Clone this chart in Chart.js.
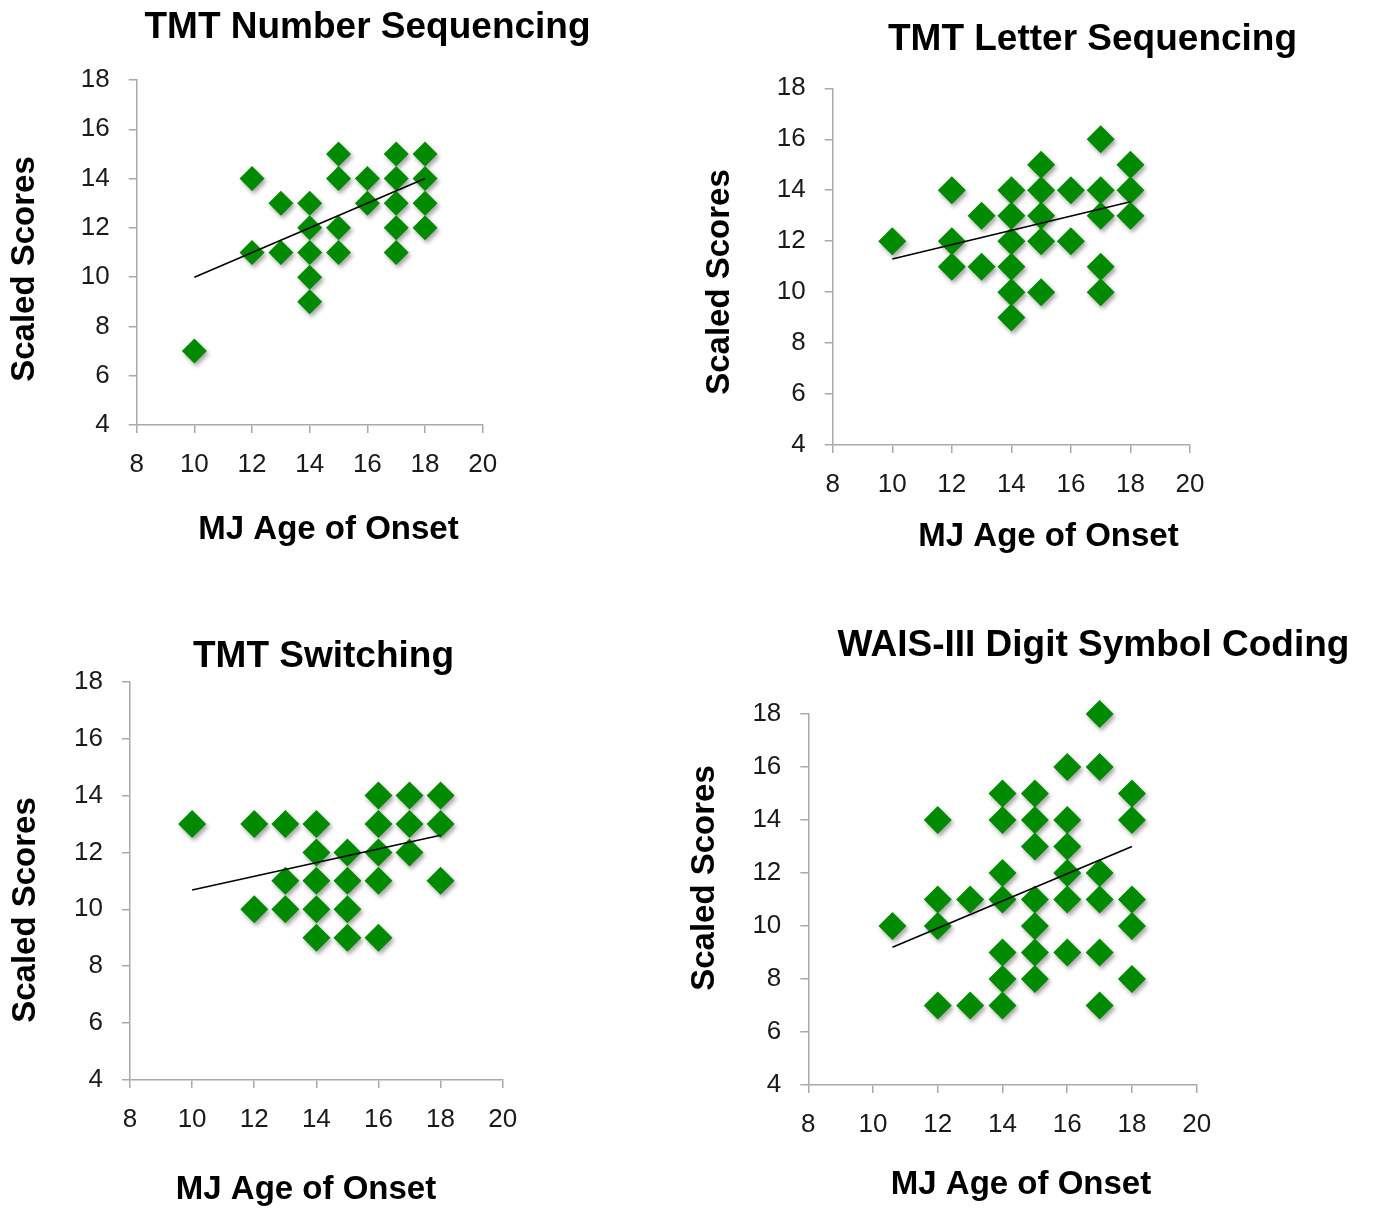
<!DOCTYPE html>
<html>
<head>
<meta charset="utf-8">
<script src="https://cdn.jsdelivr.net/npm/chart.js@4.4.0/dist/chart.umd.min.js"></script>
<style>
  body { margin: 0; background: #fff; }
  #wrap { position: relative; width: 1373px; height: 1209px; }
  canvas { position: absolute; }
</style>
</head>
<body>
<div id="wrap">
  <canvas id="numberChart" width="686" height="604" style="left:0;top:0"></canvas>
  <canvas id="letterChart" width="687" height="604" style="left:686px;top:0"></canvas>
  <canvas id="switchChart" width="686" height="605" style="left:0;top:604px"></canvas>
  <canvas id="codingChart" width="687" height="605" style="left:686px;top:604px"></canvas>
</div>
<script>
// tick values shared by all four panels
var xTicks = [8, 10, 12, 14, 16, 18, 20];
var yTicks = [4, 6, 8, 10, 12, 14, 16, 18];

// TMT Number Sequencing
var numberAge   = [10, 12, 12, 13, 13, 14, 14, 14, 14, 14, 15, 15, 15, 15, 16, 16, 17, 17, 17, 17, 17, 18, 18, 18, 18];
var numberScore = [ 7, 14, 11, 13, 11, 13, 12, 11, 10,  9, 15, 14, 12, 11, 14, 13, 15, 14, 13, 12, 11, 15, 14, 13, 12];
var numberTrend = [[10, 10], [18, 14]];

// TMT Letter Sequencing
var letterAge   = [10, 12, 12, 12, 13, 13, 14, 14, 14, 14, 14, 14, 15, 15, 15, 15, 15, 16, 16, 17, 17, 17, 17, 17, 18, 18, 18];
var letterScore = [12, 14, 12, 11, 13, 11, 14, 13, 12, 11, 10,  9, 15, 14, 13, 12, 10, 14, 12, 16, 14, 13, 11, 10, 15, 14, 13];
var letterTrend = [[10, 11.3], [18, 13.55]];

// TMT Switching
var switchAge   = [10, 12, 12, 13, 13, 13, 14, 14, 14, 14, 14, 15, 15, 15, 15, 16, 16, 16, 16, 16, 17, 17, 17, 18, 18, 18];
var switchScore = [13, 13, 10, 13, 11, 10, 13, 12, 11, 10,  9, 12, 11, 10,  9, 14, 13, 12, 11,  9, 14, 13, 12, 14, 13, 11];
var switchTrend = [[10, 10.68], [18, 12.6]];

// WAIS-III Digit Symbol Coding
var codingAge   = [10.6, 12, 12, 12, 12, 13, 13, 14, 14, 14, 14, 14, 14, 14, 15, 15, 15, 15, 15, 15, 15,
                   16, 16, 16, 16, 16, 16, 17, 17, 17, 17, 17, 17, 18, 18, 18, 18, 18];
var codingScore = [10, 14, 11, 10, 7, 11, 7, 15, 14, 12, 11, 9, 8, 7, 15, 14, 13, 11, 10, 9, 8,
                   16, 14, 13, 12, 11, 9, 18, 16, 12, 11, 9, 7, 15, 14, 11, 10, 8];
var codingTrend = [[10.6, 9.2], [18, 13]];

var FONT = '"Liberation Sans", Arial, sans-serif';

// titles drawn straight on the canvas, positions in canvas pixels
var panelText = {
  id: 'panelText',
  afterDraw: function(chart, args, opts) {
    var ctx = chart.ctx;
    ctx.save();
    ctx.fillStyle = '#000';
    ctx.textAlign = 'center';
    ctx.textBaseline = 'middle';
    ctx.font = 'bold 37px ' + FONT;
    ctx.fillText(opts.title, opts.titlePos[0], opts.titlePos[1]);
    ctx.font = 'bold 33px ' + FONT;
    ctx.fillText(opts.xTitle, opts.xTitlePos[0], opts.xTitlePos[1]);
    ctx.translate(opts.yTitlePos[0], opts.yTitlePos[1]);
    ctx.rotate(-Math.PI / 2);
    ctx.fillText(opts.yTitle, 0, 0);
    ctx.restore();
  }
};

// soft drop shadow under the diamonds
var markerShadow = {
  id: 'markerShadow',
  beforeDatasetDraw: function(chart, args) {
    if (args.index !== 1) return;
    var ctx = chart.ctx;
    ctx.shadowColor = 'rgba(0,0,0,0.35)';
    ctx.shadowBlur = 4;
    ctx.shadowOffsetX = 2;
    ctx.shadowOffsetY = 3;
  },
  afterDatasetDraw: function(chart, args) {
    if (args.index !== 1) return;
    chart.ctx.shadowColor = 'rgba(0,0,0,0)';
  }
};

function toPoints(xs, ys) {
  return xs.map(function(x, i) { return {x: x, y: ys[i]}; });
}

function axis(ticks, fitKey, fitSize, pad) {
  return {
    min: ticks[0],
    max: ticks[ticks.length - 1],
    afterBuildTicks: function(scale) {
      scale.ticks = ticks.map(function(v) { return {value: v}; });
    },
    afterFit: function(scale) { scale[fitKey] = fitSize; },
    grid: { drawOnChartArea: false, drawTicks: true, tickLength: 8, color: '#a9a9a9', lineWidth: 1.5 },
    border: { display: true, color: '#a9a9a9', width: 1.5 },
    ticks: { padding: pad, color: '#1a1a1a', font: { family: FONT, size: 26 } }
  };
}

function makePanel(id, age, score, trend, radius, padding, text) {
  new Chart(document.getElementById(id), {
    type: 'scatter',
    data: {
      datasets: [{
        data: trend.map(function(p) { return {x: p[0], y: p[1]}; }),
        showLine: true,
        borderColor: '#000',
        borderWidth: 1.6,
        pointRadius: 0,
        order: 0
      }, {
        data: toPoints(age, score),
        pointStyle: 'rectRot',
        pointRadius: radius,
        backgroundColor: '#008a00',
        borderColor: '#008a00',
        borderWidth: 0,
        clip: false,
        order: 1
      }]
    },
    options: {
      responsive: false,
      animation: false,
      events: [],
      layout: { padding: padding },
      plugins: {
        legend: { display: false },
        tooltip: { enabled: false },
        panelText: text
      },
      scales: {
        x: axis(xTicks, 'height', 60, 16),
        y: axis(yTicks, 'width', 70, 19)
      }
    },
    plugins: [panelText, markerShadow]
  });
}

makePanel('numberChart', numberAge, numberScore, numberTrend, 12.5,
  { left: 66.7, top: 80, right: 203.3, bottom: 119 },
  { title: 'TMT Number Sequencing', titlePos: [367.5, 28],
    xTitle: 'MJ Age of Onset', xTitlePos: [328.5, 530],
    yTitle: 'Scaled Scores', yTitlePos: [25, 269] });

makePanel('letterChart', letterAge, letterScore, letterTrend, 14,
  { left: 76.7, top: 88.3, right: 183, bottom: 99 },
  { title: 'TMT Letter Sequencing', titlePos: [406.5, 40],
    xTitle: 'MJ Age of Onset', xTitlePos: [362.5, 537],
    yTitle: 'Scaled Scores', yTitlePos: [34, 282] });

makePanel('switchChart', switchAge, switchScore, switchTrend, 14,
  { left: 60, top: 77.7, right: 183.3, bottom: 69 },
  { title: 'TMT Switching', titlePos: [323.5, 53],
    xTitle: 'MJ Age of Onset', xTitlePos: [306, 586],
    yTitle: 'Scaled Scores', yTitlePos: [26, 306] });

makePanel('codingChart', codingAge, codingScore, codingTrend, 14,
  { left: 52.3, top: 110, right: 176.3, bottom: 64 },
  { title: 'WAIS-III Digit Symbol Coding', titlePos: [407.5, 42],
    xTitle: 'MJ Age of Onset', xTitlePos: [335, 581],
    yTitle: 'Scaled Scores', yTitlePos: [19, 274] });
</script>
</body>
</html>
